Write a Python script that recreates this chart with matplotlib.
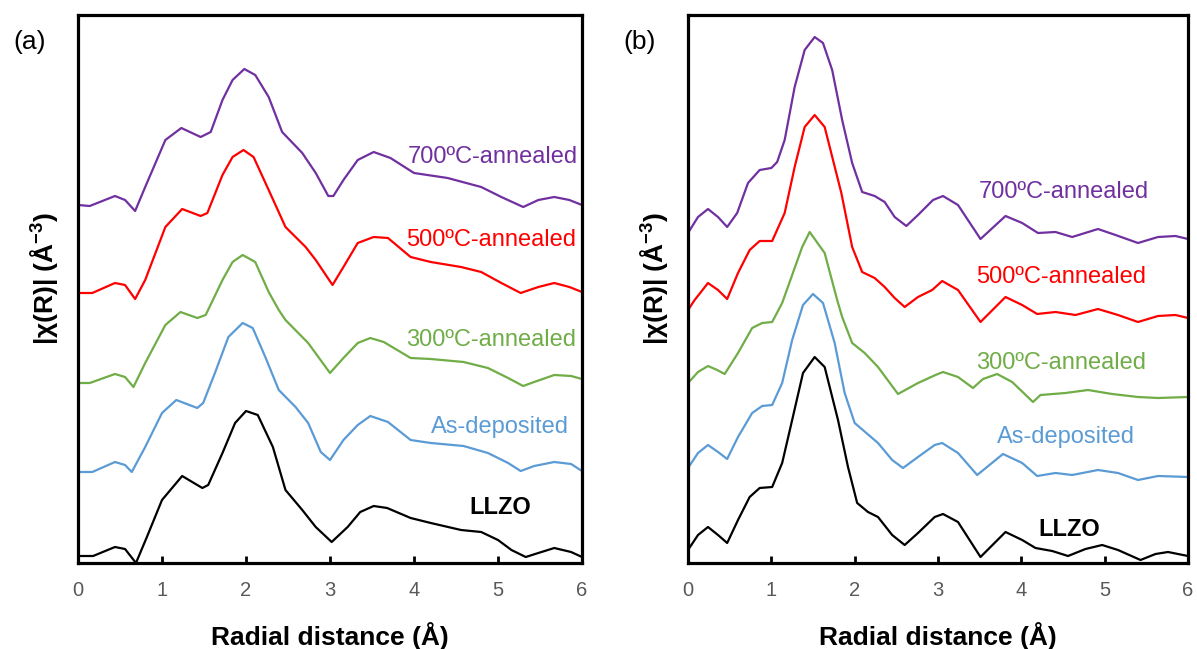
import matplotlib
matplotlib.use("Agg")
import matplotlib.pyplot as plt

plt.rcParams['font.family'] = ['Liberation Sans', 'DejaVu Sans']
plt.rcParams['mathtext.fontset'] = 'custom'
plt.rcParams['mathtext.rm'] = 'Liberation Sans'
plt.rcParams['mathtext.bf'] = 'Liberation Sans:bold'

# ---- panel (a): stacked |chi(R)| curves (offset included) ----
a_700_r = [0, 0.14, 0.44, 0.56, 0.68, 0.80, 1.04, 1.23, 1.46, 1.58, 1.72, 1.84, 1.98, 2.11, 2.27, 2.43,
           2.67, 2.83, 2.98, 3.04, 3.16, 3.33, 3.52, 3.72, 4.00, 4.40, 4.80, 5.04, 5.30, 5.48, 5.67, 5.85, 6.0]
a_700_y = [3.58, 3.57, 3.67, 3.63, 3.52, 3.76, 4.23, 4.35, 4.26, 4.31, 4.63, 4.83, 4.94, 4.88, 4.66, 4.31,
           4.10, 3.90, 3.67, 3.67, 3.83, 4.03, 4.11, 4.05, 3.90, 3.85, 3.76, 3.66, 3.56, 3.63, 3.66, 3.63, 3.58]

a_500_r = [0, 0.17, 0.44, 0.56, 0.68, 0.80, 1.04, 1.24, 1.46, 1.54, 1.72, 1.84, 1.97, 2.09, 2.27, 2.47, 2.71,
           2.83, 3.03, 3.16, 3.33, 3.52, 3.69, 3.96, 4.20, 4.56, 4.80, 5.04, 5.27, 5.48, 5.67, 5.85, 6.0]
a_500_y = [2.70, 2.70, 2.80, 2.78, 2.64, 2.83, 3.36, 3.54, 3.47, 3.50, 3.88, 4.06, 4.13, 4.06, 3.73, 3.36, 3.16,
           3.03, 2.78, 2.96, 3.20, 3.26, 3.25, 3.06, 3.01, 2.96, 2.91, 2.80, 2.70, 2.76, 2.80, 2.76, 2.71]

a_300_r = [0, 0.14, 0.44, 0.56, 0.66, 0.80, 1.04, 1.22, 1.42, 1.52, 1.72, 1.84, 1.96, 2.11, 2.27, 2.39, 2.47,
           2.74, 3.00, 3.16, 3.33, 3.48, 3.64, 3.96, 4.20, 4.59, 4.88, 5.12, 5.30, 5.43, 5.67, 5.87, 6.0]
a_300_y = [1.80, 1.80, 1.89, 1.86, 1.76, 2.00, 2.38, 2.51, 2.45, 2.48, 2.83, 3.01, 3.08, 3.01, 2.71, 2.53, 2.43,
           2.20, 1.90, 2.05, 2.20, 2.25, 2.21, 2.05, 2.04, 2.01, 1.95, 1.85, 1.77, 1.81, 1.88, 1.87, 1.84]

a_dep_r = [0, 0.17, 0.44, 0.56, 0.64, 0.80, 1.00, 1.17, 1.42, 1.49, 1.63, 1.79, 1.96, 2.08, 2.23, 2.39, 2.59,
           2.74, 2.89, 3.00, 3.16, 3.33, 3.48, 3.69, 3.96, 4.20, 4.59, 4.88, 5.12, 5.27, 5.43, 5.67, 5.87, 6.0]
a_dep_y = [0.91, 0.91, 1.01, 0.98, 0.91, 1.16, 1.50, 1.63, 1.55, 1.60, 1.90, 2.26, 2.40, 2.35, 2.06, 1.73, 1.56,
           1.40, 1.11, 1.03, 1.23, 1.38, 1.47, 1.41, 1.23, 1.20, 1.17, 1.10, 1.00, 0.92, 0.97, 1.01, 0.99, 0.92]

a_llzo_r = [0, 0.18, 0.44, 0.56, 0.69, 0.82, 1.00, 1.24, 1.48, 1.55, 1.72, 1.87, 2.00, 2.14, 2.32, 2.47, 2.67,
            2.83, 3.02, 3.21, 3.36, 3.52, 3.68, 3.96, 4.20, 4.56, 4.80, 5.00, 5.16, 5.33, 5.48, 5.67, 5.87, 6.0]
a_llzo_y = [0.07, 0.07, 0.16, 0.14, 0.00, 0.26, 0.63, 0.87, 0.75, 0.78, 1.10, 1.40, 1.52, 1.48, 1.16, 0.73, 0.53,
            0.36, 0.21, 0.36, 0.51, 0.57, 0.55, 0.45, 0.40, 0.33, 0.31, 0.23, 0.13, 0.06, 0.10, 0.15, 0.11, 0.06]

# ---- panel (b) ----
b_700_r = [0, 0.12, 0.24, 0.36, 0.47, 0.59, 0.72, 0.86, 1.00, 1.07, 1.16, 1.28, 1.40, 1.52, 1.62, 1.73, 1.85,
           1.97, 2.09, 2.24, 2.36, 2.48, 2.62, 2.76, 2.94, 3.06, 3.24, 3.51, 3.81, 4.01, 4.20, 4.41, 4.61, 4.92,
           5.13, 5.40, 5.64, 5.85, 6.0]
b_700_y = [3.30, 3.46, 3.54, 3.46, 3.36, 3.50, 3.80, 3.93, 3.95, 4.01, 4.23, 4.76, 5.13, 5.26, 5.20, 4.93, 4.43,
           4.00, 3.71, 3.67, 3.61, 3.46, 3.37, 3.48, 3.63, 3.67, 3.58, 3.24, 3.47, 3.40, 3.30, 3.31, 3.26, 3.34,
           3.28, 3.20, 3.26, 3.27, 3.24]

b_500_r = [0, 0.08, 0.24, 0.36, 0.47, 0.60, 0.74, 0.86, 1.01, 1.16, 1.28, 1.40, 1.52, 1.64, 1.84, 1.97, 2.09,
           2.24, 2.36, 2.48, 2.60, 2.76, 2.93, 3.05, 3.24, 3.51, 3.81, 4.01, 4.19, 4.41, 4.65, 4.92, 5.16, 5.40,
           5.64, 5.85, 6.0]
b_500_y = [2.53, 2.63, 2.80, 2.73, 2.64, 2.90, 3.13, 3.22, 3.22, 3.50, 3.96, 4.36, 4.48, 4.36, 3.70, 3.16, 2.91,
           2.85, 2.76, 2.65, 2.56, 2.66, 2.73, 2.82, 2.73, 2.41, 2.66, 2.58, 2.49, 2.51, 2.48, 2.54, 2.48, 2.41,
           2.47, 2.48, 2.45]

b_300_r = [0, 0.12, 0.24, 0.35, 0.44, 0.60, 0.77, 0.89, 1.01, 1.13, 1.37, 1.46, 1.64, 1.79, 1.85, 1.97, 2.12,
           2.28, 2.52, 2.76, 2.97, 3.06, 3.24, 3.42, 3.54, 3.71, 3.89, 4.14, 4.23, 4.53, 4.80, 5.09, 5.40, 5.64, 6.0]
b_300_y = [1.80, 1.91, 1.97, 1.93, 1.89, 2.10, 2.35, 2.40, 2.41, 2.60, 3.16, 3.31, 3.10, 2.63, 2.46, 2.20, 2.10,
           1.96, 1.69, 1.80, 1.88, 1.91, 1.86, 1.75, 1.84, 1.89, 1.81, 1.61, 1.68, 1.70, 1.73, 1.69, 1.66, 1.65, 1.66]

b_dep_r = [0, 0.12, 0.24, 0.36, 0.47, 0.60, 0.77, 0.89, 1.01, 1.13, 1.25, 1.38, 1.50, 1.62, 1.76, 1.88, 2.00,
           2.14, 2.28, 2.45, 2.58, 2.76, 2.96, 3.05, 3.24, 3.47, 3.78, 4.01, 4.19, 4.41, 4.61, 4.92, 5.16, 5.40,
           5.64, 6.0]
b_dep_y = [0.95, 1.10, 1.18, 1.11, 1.04, 1.26, 1.50, 1.57, 1.58, 1.80, 2.23, 2.58, 2.69, 2.60, 2.20, 1.70, 1.40,
           1.30, 1.20, 1.03, 0.95, 1.06, 1.18, 1.20, 1.10, 0.88, 1.09, 1.00, 0.87, 0.90, 0.88, 0.93, 0.90, 0.83,
           0.87, 0.86]

b_llzo_r = [0, 0.12, 0.24, 0.36, 0.47, 0.60, 0.74, 0.86, 1.01, 1.13, 1.25, 1.38, 1.52, 1.64, 1.80, 1.92, 2.03,
            2.16, 2.28, 2.45, 2.60, 2.76, 2.96, 3.06, 3.24, 3.51, 3.81, 4.01, 4.17, 4.37, 4.56, 4.77, 4.97, 5.16,
            5.43, 5.61, 5.76, 6.0]
b_llzo_y = [0.13, 0.28, 0.36, 0.28, 0.20, 0.43, 0.66, 0.75, 0.76, 1.00, 1.43, 1.90, 2.06, 1.96, 1.43, 0.96, 0.60,
            0.51, 0.46, 0.28, 0.18, 0.30, 0.46, 0.49, 0.41, 0.06, 0.31, 0.23, 0.15, 0.12, 0.07, 0.14, 0.18, 0.13,
            0.03, 0.09, 0.11, 0.07]

labels = ['700ºC-annealed', '500ºC-annealed', '300ºC-annealed', 'As-deposited', 'LLZO']
colors = ['#7030A0', '#FF0000', '#70AD47', '#5B9BD5', '#000000']

# label anchor (x, y, ha) per panel
a_label_pos = [(5.95, 4.06, 'right'), (5.93, 3.23, 'right'), (5.93, 2.23, 'right'),
               (5.85, 1.36, 'right'), (5.03, 0.55, 'center')]
b_label_pos = [(4.51, 3.71, 'center'), (4.48, 2.86, 'center'), (4.48, 2.00, 'center'),
               (4.53, 1.26, 'center'), (4.58, 0.33, 'center')]

panels = [
    ('(a)', [(a_700_r, a_700_y), (a_500_r, a_500_y), (a_300_r, a_300_y), (a_dep_r, a_dep_y), (a_llzo_r, a_llzo_y)],
     a_label_pos, [78, 15, 504, 548]),
    ('(b)', [(b_700_r, b_700_y), (b_500_r, b_500_y), (b_300_r, b_300_y), (b_dep_r, b_dep_y), (b_llzo_r, b_llzo_y)],
     b_label_pos, [688, 15, 500, 548]),
]

W, H = 1197, 649
fig = plt.figure(figsize=(W / 100, H / 100), dpi=100)

for tag, curves, label_pos, (px, py, pw, ph) in panels:
    ax = fig.add_axes([px / W, 1 - (py + ph) / H, pw / W, ph / H])
    for (r, y), c, lab, (tx, ty, ha) in zip(curves, colors, labels, label_pos):
        ax.plot(r, y, color=c, lw=1.6, solid_joinstyle='round', solid_capstyle='round')
        weight = 'bold' if lab == 'LLZO' else 'normal'
        ax.text(tx, ty, lab, color=c, fontsize=17, ha=ha, va='center', fontweight=weight)

    ax.set_xlim(0, 6)
    ax.set_ylim(0, 5.48)
    ax.set_xticks(range(7))
    ax.set_yticks([])
    ax.tick_params(axis='x', direction='in', length=5, width=2, colors='black',
                   labelcolor='#595959', labelsize=14.5, pad=13)
    for s in ax.spines.values():
        s.set_linewidth(2.3)
        s.set_color('black')
    ax.set_xlabel('Radial distance (Å)', fontsize=19, fontweight='bold', labelpad=16)

    fig.text((px - 33) / W, 1 - 278 / H, r'|χ(R)| (Å$^{\mathbf{-3}}$)', rotation=90,
             fontsize=19, fontweight='bold', ha='center', va='center')
    fig.text((px - 48) / W, 1 - 42 / H, tag, fontsize=19, ha='center', va='center')

fig.savefig('out.png', dpi=100)
